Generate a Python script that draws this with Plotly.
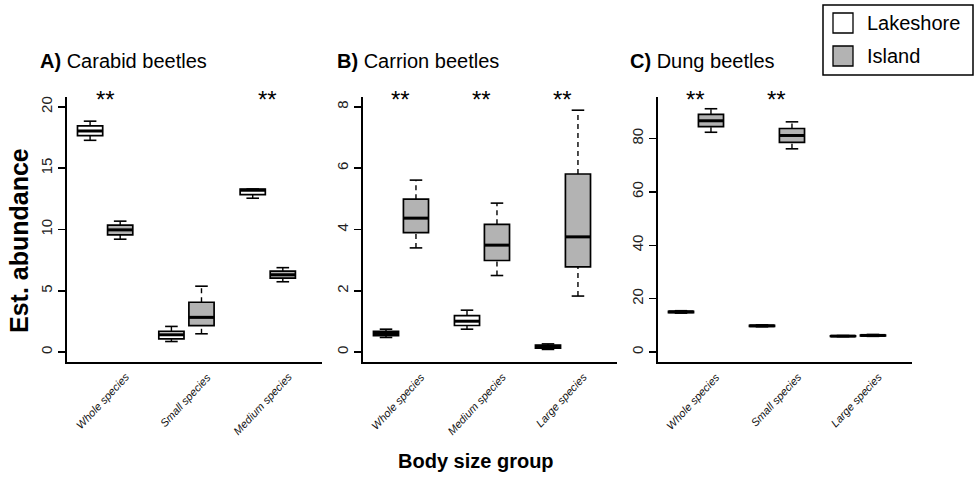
import plotly.graph_objects as go

W, H = 977, 479

# ---------------- data ----------------
panel_letters = ["A)", "B)", "C)"]
panel_names = ["Carabid beetles", "Carrion beetles", "Dung beetles"]
groups_A = ["Whole species", "Small species", "Medium species"]
groups_B = ["Whole species", "Medium species", "Large species"]
groups_C = ["Whole species", "Small species", "Large species"]
sites = ["Lakeshore", "Island"]

# box statistics: lower whisker, q1, median, q3, upper whisker
A_lake_low = [17.27, 0.87, 12.55]
A_lake_q1 = [17.65, 1.09, 12.85]
A_lake_med = [18.03, 1.42, 13.20]
A_lake_q3 = [18.44, 1.69, 13.30]
A_lake_high = [18.83, 2.10, 13.30]
A_isl_low = [9.21, 1.50, 5.74]
A_isl_q1 = [9.56, 2.16, 6.04]
A_isl_med = [9.97, 2.84, 6.31]
A_isl_q3 = [10.36, 4.07, 6.61]
A_isl_high = [10.68, 5.38, 6.89]

B_lake_low = [0.48, 0.75, 0.09]
B_lake_q1 = [0.54, 0.87, 0.13]
B_lake_med = [0.61, 1.01, 0.19]
B_lake_q3 = [0.68, 1.19, 0.23]
B_lake_high = [0.75, 1.37, 0.27]
B_isl_low = [3.40, 2.50, 1.83]
B_isl_q1 = [3.90, 2.99, 2.78]
B_isl_med = [4.37, 3.49, 3.76]
B_isl_q3 = [4.99, 4.17, 5.81]
B_isl_high = [5.61, 4.86, 7.89]

C_lake_low = [14.6, 9.5, 5.8]
C_lake_q1 = [14.8, 9.65, 5.9]
C_lake_med = [15.1, 9.85, 6.0]
C_lake_q3 = [15.3, 10.05, 6.1]
C_lake_high = [15.5, 10.2, 6.2]
C_isl_low = [82.3, 76.1, 5.9]
C_isl_q1 = [84.4, 78.5, 6.1]
C_isl_med = [86.6, 81.1, 6.25]
C_isl_q3 = [89.0, 83.7, 6.4]
C_isl_high = [91.1, 86.2, 6.6]

signif_A = ["**", "", "**"]
signif_B = ["**", "**", "**"]
signif_C = ["**", "**", ""]

ticks_A = [0, 5, 10, 15, 20]
ticks_B = [0, 2, 4, 6, 8]
ticks_C = [0, 20, 40, 60, 80]

# ---------------- layout helpers ----------------
FONT = "Liberation Sans, Arial, sans-serif"
LAKE_FILL = "white"
ISL_FILL = "#b3b3b3"
OFF = 0.185
BW = 0.31


def px(x):
    return x / W


def py(y):
    return 1 - y / H


panels = [
    dict(groups=groups_A, signif=signif_A, ticks=ticks_A, yr=[-0.8, 20.8],
         lake=(A_lake_low, A_lake_q1, A_lake_med, A_lake_q3, A_lake_high),
         isl=(A_isl_low, A_isl_q1, A_isl_med, A_isl_q3, A_isl_high),
         dom=[px(67), px(322)], tx=38),
    dict(groups=groups_B, signif=signif_B, ticks=ticks_B, yr=[-0.32, 8.32],
         lake=(B_lake_low, B_lake_q1, B_lake_med, B_lake_q3, B_lake_high),
         isl=(B_isl_low, B_isl_q1, B_isl_med, B_isl_q3, B_isl_high),
         dom=[px(363), px(617)], tx=335),
    dict(groups=groups_C, signif=signif_C, ticks=ticks_C, yr=[-3.7, 95.5],
         lake=(C_lake_low, C_lake_q1, C_lake_med, C_lake_q3, C_lake_high),
         isl=(C_isl_low, C_isl_q1, C_isl_med, C_isl_q3, C_isl_high),
         dom=[px(658), px(912)], tx=628),
]

fig = go.Figure()
annotations = []
layout_axes = {}

for i, p in enumerate(panels):
    n = i + 1
    xa = "x" if n == 1 else f"x{n}"
    ya = "y" if n == 1 else f"y{n}"
    pos_center = list(range(1, len(p["groups"]) + 1))
    for stats, off, fill in ((p["lake"], -OFF, LAKE_FILL), (p["isl"], OFF, ISL_FILL)):
        low, q1, med, q3, high = stats
        xs = [c + off for c in pos_center]
        fig.add_trace(go.Box(
            x=xs, q1=q1, median=med, q3=q3, lowerfence=q1, upperfence=q3,
            width=BW, whiskerwidth=0, fillcolor=fill,
            line=dict(color="black", width=1.7), boxpoints=False,
            showlegend=False, hoverinfo="skip", xaxis=xa, yaxis=ya))
        # dashed whiskers
        wx, wy = [], []
        for x, lo, a, b, hi in zip(xs, low, q1, q3, high):
            wx += [x, x, None, x, x, None]
            wy += [b, hi, None, lo, a, None]
        fig.add_trace(go.Scatter(
            x=wx, y=wy, mode="lines", line=dict(color="black", width=1.4, dash="5px,4px"),
            showlegend=False, hoverinfo="skip", xaxis=xa, yaxis=ya))
        # staples
        sx, sy = [], []
        for x, lo, hi in zip(xs, low, high):
            sx += [x - BW / 4, x + BW / 4, None, x - BW / 4, x + BW / 4, None]
            sy += [hi, hi, None, lo, lo, None]
        fig.add_trace(go.Scatter(
            x=sx, y=sy, mode="lines", line=dict(color="black", width=1.6),
            showlegend=False, hoverinfo="skip", xaxis=xa, yaxis=ya))
        # thick medians
        mx, my = [], []
        for x, m in zip(xs, med):
            mx += [x - BW / 2, x + BW / 2, None]
            my += [m, m, None]
        fig.add_trace(go.Scatter(
            x=mx, y=my, mode="lines", line=dict(color="black", width=3),
            showlegend=False, hoverinfo="skip", xaxis=xa, yaxis=ya))

    layout_axes["xaxis" if n == 1 else f"xaxis{n}"] = dict(
        domain=p["dom"], range=[0.531, 3.667], showgrid=False, zeroline=False,
        showline=True, linecolor="black", linewidth=1.6, ticks="",
        showticklabels=False, anchor=ya, fixedrange=True)
    layout_axes["yaxis" if n == 1 else f"yaxis{n}"] = dict(
        domain=[py(362), py(97)], range=p["yr"], showgrid=False, zeroline=False,
        showline=True, linecolor="black", linewidth=1.6, ticks="outside",
        ticklen=7, tickwidth=1.4, tickcolor="black", tickvals=p["ticks"],
        tickangle=-90, tickfont=dict(family=FONT, size=15, color="#222"),
        anchor=xa, fixedrange=True)

    # panel title
    annotations.append(dict(
        text=f"<b>{panel_letters[i]}</b> {panel_names[i]}", x=px(p["tx"]), y=py(61),
        xref="paper", yref="paper", xanchor="left", yanchor="middle",
        showarrow=False, font=dict(family=FONT, size=20, color="black")))
    # category labels and significance stars
    for g, (lab, sig) in enumerate(zip(p["groups"], p["signif"])):
        annotations.append(dict(
            text=f"<i>{lab}</i>", x=g + 1 + 0.36, y=py(368), xref=xa, yref="paper",
            xanchor="right", yanchor="top", textangle=-47, showarrow=False,
            font=dict(family=FONT, size=11, color="#111")))
        if sig:
            annotations.append(dict(
                text=sig, x=g + 1, y=py(99), xref=xa, yref="paper",
                xanchor="center", yanchor="middle", showarrow=False,
                font=dict(family=FONT, size=24, color="black")))

# axis titles
annotations.append(dict(
    text="<b>Est. abundance</b>", x=px(19), y=py(241), xref="paper", yref="paper",
    xanchor="center", yanchor="middle", textangle=-90, showarrow=False,
    font=dict(family=FONT, size=25, color="black")))
annotations.append(dict(
    text="<b>Body size group</b>", x=px(476), y=py(461), xref="paper", yref="paper",
    xanchor="center", yanchor="middle", showarrow=False,
    font=dict(family=FONT, size=20, color="black")))

# legend (drawn manually)
shapes = [
    dict(type="rect", xref="paper", yref="paper", x0=px(823), x1=px(973), y0=py(75), y1=py(5),
         line=dict(color="black", width=1.5), fillcolor="white"),
]
for name, fill, yc in zip(sites, [LAKE_FILL, ISL_FILL], [23, 56]):
    shapes.append(dict(type="rect", xref="paper", yref="paper", x0=px(833), x1=px(853),
                       y0=py(yc + 10), y1=py(yc - 10), line=dict(color="black", width=1.3),
                       fillcolor=fill))
    annotations.append(dict(
        text=name, x=px(865), y=py(yc), xref="paper", yref="paper",
        xanchor="left", yanchor="middle", showarrow=False,
        font=dict(family=FONT, size=20, color="black")))

fig.update_layout(
    width=W, height=H, autosize=False,
    margin=dict(l=0, r=0, t=0, b=0, pad=0),
    paper_bgcolor="white", plot_bgcolor="white",
    annotations=annotations, shapes=shapes,
    hovermode=False,
    **layout_axes,
)

fig.write_html("out.html", config={"displayModeBar": False, "staticPlot": True},
               post_script="document.body.style.margin='0';document.body.style.overflow='hidden';")
